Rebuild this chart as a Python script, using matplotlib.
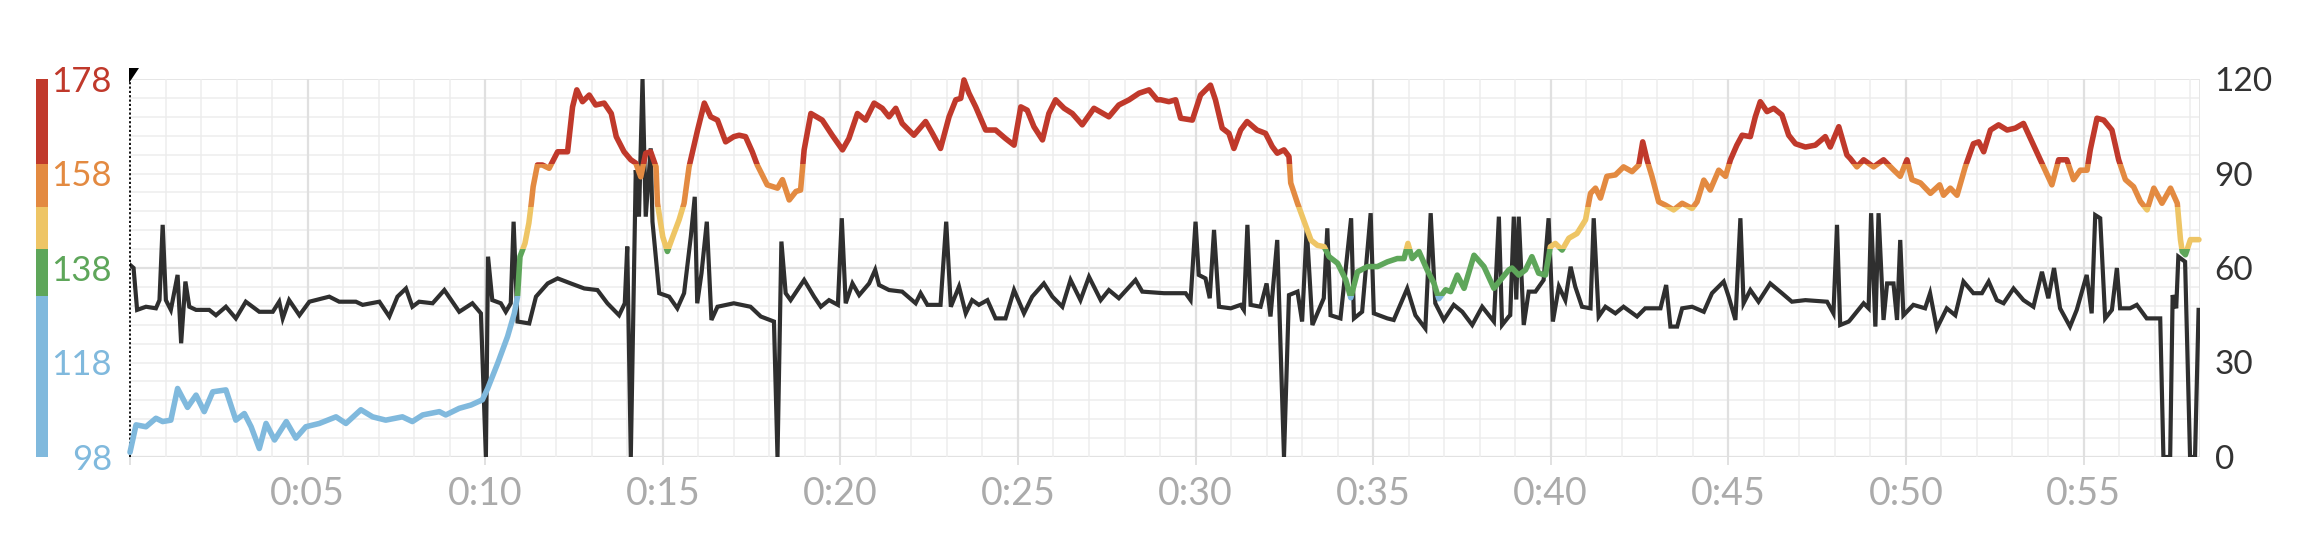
import matplotlib
matplotlib.use("Agg")
import matplotlib.pyplot as plt
import matplotlib.transforms as mtransforms
from matplotlib.patches import Rectangle, Polygon
import numpy as np

plt.rcParams['font.family'] = ['Lato', 'DejaVu Sans']

# ---------------- data ----------------
# heart rate (bpm) vs elapsed time (minutes)
hr_time = [
    0.0, 0.17, 0.45, 0.73, 0.92, 1.15, 1.34, 1.62, 1.86, 2.09,
    2.33, 2.7, 2.98, 3.22, 3.41, 3.64, 3.83, 4.07, 4.4, 4.67,
    4.95, 5.33, 5.8, 6.08, 6.5, 6.83, 7.2, 7.67, 7.95, 8.24,
    8.71, 8.89, 9.27, 9.6, 9.92,
    10.07, 10.35, 10.63, 10.82, 10.91, 10.98, 11.12, 11.23, 11.3, 11.35,
    11.47, 11.61, 11.8, 12.04, 12.32, 12.46, 12.58, 12.74, 12.93, 13.11,
    13.35, 13.55, 13.69, 13.91, 14.1, 14.24, 14.38, 14.52, 14.66, 14.81,
    14.85, 15.0, 15.13, 15.28, 15.46, 15.6, 15.74, 15.98, 16.17, 16.35,
    16.54, 16.77, 17.0, 17.15, 17.33, 17.52, 17.66, 17.94, 18.23, 18.37,
    18.56, 18.75, 18.88, 18.98, 19.17, 19.4,
    19.49, 19.77, 20.06, 20.24, 20.48, 20.71, 20.95, 21.18, 21.37, 21.56,
    21.74, 22.07, 22.4, 22.59, 22.82, 23.06, 23.25, 23.39, 23.48, 23.62,
    23.81, 24.09, 24.37, 24.65, 24.89, 25.08, 25.26, 25.45, 25.69, 25.87,
    26.06, 26.3, 26.53, 26.81, 27.14, 27.56, 27.84, 28.13, 28.41, 28.69,
    28.92,
    29.02, 29.25, 29.44, 29.58, 29.91, 30.14, 30.42, 30.56, 30.75, 30.94,
    31.08, 31.27, 31.45, 31.73, 31.97, 32.16, 32.3, 32.49, 32.63, 32.68,
    32.87, 33.06, 33.25, 33.43, 33.62, 33.76, 34.0, 34.23, 34.37, 34.56,
    34.84, 35.12, 35.4, 35.68, 35.87, 35.98, 36.1, 36.29, 36.52, 36.71,
    36.85, 37.04, 37.18, 37.37, 37.56, 37.84, 38.12, 38.4, 38.59, 38.82,
    38.91, 39.1, 39.29, 39.47, 39.66, 39.85, 39.99, 40.13, 40.32, 40.51,
    40.74, 40.98, 41.12, 41.26, 41.4, 41.58, 41.82, 42.05, 42.29, 42.48,
    42.59, 42.71, 42.85, 43.04, 43.23, 43.46, 43.7, 43.98, 44.12, 44.31,
    44.49, 44.73, 44.92, 45.06, 45.24, 45.39, 45.62, 45.76, 45.9, 46.09,
    46.28, 46.51, 46.7, 46.89, 47.17, 47.45, 47.73, 47.87, 48.11, 48.34,
    48.43, 48.62, 48.81, 49.09, 49.37, 49.66, 49.84, 50.03, 50.17, 50.41,
    50.69, 50.95, 51.06, 51.25, 51.44, 51.67, 51.9, 52.05, 52.19, 52.38,
    52.61, 52.85, 53.08, 53.31, 53.55, 53.74, 53.92, 54.11, 54.3, 54.53,
    54.72, 54.91, 55.1, 55.19, 55.38, 55.57, 55.8, 55.99, 56.18, 56.41,
    56.6, 56.79, 56.98, 57.21, 57.45, 57.64, 57.73, 57.78, 57.87, 58.01,
    58.25,
]
hr_bpm = [
    99, 104.8, 104.4, 106.2, 105.5, 105.8, 112.5, 108.5, 111.1, 107.6,
    111.8, 112.2, 105.8, 107.2, 104.4, 99.8, 105.1, 101.6, 105.5, 102,
    104.4, 105.1, 106.5, 105.1, 108, 106.5, 105.8, 106.5, 105.5, 106.9,
    107.6, 106.9, 108.3, 109, 110.1,
    112.5, 117.8, 123.5, 128.4, 131.9, 140.4, 143.2, 147.5, 151.7, 155.2,
    159.8, 159.8, 159.1, 162.6, 162.6, 172.1, 175.7, 173.2, 174.6, 172.5,
    172.9, 170.7, 165.8, 162.6, 160.9, 160.2, 157.3, 162.3, 162.6, 159.4,
    151.7, 144.6, 141.5, 144.6, 148.2, 151.7, 159.4, 167.2, 172.9, 170,
    169.3, 164.7, 165.8, 166.1, 165.8, 162.6, 159.8, 155.6, 154.9, 156.7,
    152.4, 154.2, 154.5, 163, 170.7, 169.7,
    169.3, 166.1, 163, 165.4, 170.7, 169.3, 172.9, 171.8, 170, 171.8,
    168.6, 166.1, 169, 166.5, 163.3, 170, 173.6, 173.9, 177.8, 175,
    172.1, 167.2, 167.2, 165.4, 164, 172.1, 171.4, 167.9, 165.1, 170.7,
    173.6, 171.8, 170.7, 168.3, 171.8, 170, 172.5, 173.6, 175, 175.7,
    173.6,
    173.6, 173.2, 173.6, 169.7, 169.3, 174.6, 176.7, 173.6, 167.6, 166.5,
    163.3, 167.2, 169, 167.2, 166.5, 163.7, 162.3, 163, 161.6, 156,
    151.7, 147.8, 143.9, 142.8, 142.5, 140.4, 139, 135.5, 131.7, 137.2,
    138.3, 138.3, 139.3, 140, 140, 143.2, 140, 141.5, 137.6, 134.8,
    131.5, 133.4, 133, 136.5, 133.7, 140.7, 138.3, 133.7, 135.5, 137.6,
    138, 136.5, 137.6, 140.4, 136.9, 136.5, 142.5, 143.2, 141.8, 144.3,
    145.3, 148.2, 153.8, 154.9, 152.8, 157.4, 157.7, 159.4, 158.4, 159.8,
    164.7, 160.9, 157.4, 152, 151.3, 150.3, 151.7, 150.6, 152, 156.6,
    154.5, 158.7, 157.4, 160.9, 164, 166.1, 165.8, 170, 173.2, 171.1,
    171.8, 170.4, 166.1, 164.3, 163.6, 164, 165.8, 163.6, 167.9, 161.9,
    161.2, 159.4, 160.9, 159.4, 160.9, 158.7, 157.4, 160.9, 156.7, 156,
    153.8, 155.6, 153.4, 154.9, 153.4, 159.4, 164.3, 164.7, 162.6, 167.2,
    168.3, 167.2, 167.6, 168.6, 164.7, 161.6, 158.7, 155.6, 160.9, 160.9,
    156.7, 158.7, 158.7, 163, 169.7, 169.3, 167.2, 160.9, 156.7, 155.2,
    152.1, 150.3, 154.9, 151.7, 154.9, 151.7, 144, 141.5, 140.8, 144,
    144,
]

# second series (right axis, 0-120) vs elapsed time (minutes)
cad_time = [
    0.0, 0.1, 0.2, 0.45, 0.73, 0.83, 0.92, 1.01, 1.15, 1.34,
    1.44, 1.56, 1.67, 1.86, 2.23, 2.42, 2.7, 2.98, 3.26, 3.64,
    4.02, 4.2, 4.3, 4.48, 4.77, 5.05, 5.61, 5.89, 6.36, 6.55,
    7.02, 7.3, 7.53, 7.77, 7.95, 8.14, 8.52, 8.85, 9.27, 9.64,
    9.88, 10.02, 10.08, 10.2, 10.44, 10.58, 10.72, 10.8, 10.91, 11.24,
    11.43, 11.76, 12.04, 12.41, 12.79, 13.16, 13.44, 13.77, 13.93, 14.0,
    14.1, 14.24, 14.33, 14.43, 14.52, 14.66, 14.71, 14.9, 15.18, 15.41,
    15.6, 15.79, 15.9, 15.97, 16.09, 16.24, 16.37, 16.54, 17.0, 17.47,
    17.76, 18.13, 18.23, 18.34, 18.46, 18.6, 18.98, 19.26,
    19.45, 19.68, 19.93, 20.04, 20.15, 20.34, 20.53, 20.81, 20.98, 21.09,
    21.37, 21.74, 22.12, 22.26, 22.45, 22.82, 22.98, 23.11, 23.34, 23.53,
    23.71, 23.9, 24.14, 24.37, 24.65, 24.89, 25.17, 25.4, 25.73, 25.97,
    26.25, 26.48, 26.76, 27.0, 27.33, 27.56, 27.84, 28.31, 28.5, 29.11,
    29.72, 29.86, 30.0, 30.09, 30.28, 30.4, 30.52, 30.66, 30.99, 31.27,
    31.36, 31.46, 31.55, 31.83, 32.0, 32.11, 32.3, 32.49, 32.63, 32.87,
    33.0, 33.13, 33.29, 33.47, 33.61, 33.71, 33.8, 34.08, 34.38, 34.46,
    34.69, 34.93, 35.02, 35.4, 35.58, 35.96, 36.19, 36.47, 36.62, 36.75,
    36.99, 37.27, 37.51, 37.79, 38.07, 38.4, 38.54, 38.63, 38.82,
    38.86, 38.96, 39.03, 39.1, 39.24, 39.38, 39.57, 39.8, 39.94, 40.06,
    40.23, 40.41, 40.56, 40.69, 40.88, 41.12, 41.21, 41.35, 41.54, 41.82,
    42.05, 42.43, 42.66, 43.09, 43.25, 43.37, 43.56, 43.7, 43.98, 44.31,
    44.54, 44.87, 45.01, 45.2, 45.34, 45.43, 45.62, 45.85, 46.18, 46.51,
    46.79, 47.17, 47.78, 47.96, 48.06, 48.15, 48.39,
    48.43, 48.81, 48.95, 49.02, 49.14, 49.23, 49.37, 49.47, 49.65, 49.75,
    49.84, 49.93, 50.21, 50.54, 50.68, 50.87, 51.15, 51.39, 51.62, 51.9,
    52.14, 52.33, 52.56, 52.75, 53.03, 53.31, 53.59, 53.83, 54.01, 54.17,
    54.34, 54.62, 54.81, 55.09, 55.23, 55.33, 55.47, 55.61, 55.8, 55.94,
    56.03, 56.31, 56.5, 56.78, 57.16, 57.25, 57.44, 57.51, 57.61, 57.67,
    57.86, 58.0, 58.14, 58.24,
]
cad_val = [
    61, 60, 46.7, 47.7, 47.2, 49.8, 73.7, 49.8, 46.7, 57.8,
    36.1, 55.7, 47.7, 46.7, 46.7, 45, 47.7, 44, 49.3, 46.1,
    46.1, 49.3, 44, 49.8, 45, 49.3, 50.9, 49.3, 49.3, 48.3,
    49.3, 44.6, 50.9, 53.5, 47.7, 49.3, 48.8, 53, 46.1, 48.8,
    45.6, 0, 63.6, 49.8, 48.8, 46.1, 48.8, 74.7, 43, 42.4,
    50.9, 55.1, 56.7, 55.1, 53.5, 53, 48.8, 45, 48.8, 66.8,
    0, 91.1, 76.3, 120, 76.3, 98, 74.7, 52, 50.9, 47.2,
    52, 70, 82.6, 48.8, 58.3, 74.7, 43.5, 47.7, 48.8, 47.7,
    44.6, 43, 0, 68.4, 52, 49.8, 56.2, 50.9,
    47.7, 49.8, 48.3, 75.8, 48.8, 55.1, 51.4, 55.1, 59.4, 54.6,
    53, 52.5, 48.8, 52, 48.3, 48.3, 74.7, 47.7, 54.1, 45.6,
    49.8, 48.3, 49.8, 44, 44, 53, 45.6, 50.9, 55.1, 50.9,
    47.7, 56.2, 49.8, 57.2, 49.8, 53, 50.4, 56.2, 52.5, 52,
    52, 49.8, 74.7, 57.8, 56.7, 50.4, 72.1, 47.7, 47.2, 48.3,
    46.7, 73.7, 48.3, 47.7, 55.1, 44.6, 68.9, 0, 51.4, 52.5,
    43, 72.6, 41.9, 46.7, 50.4, 72.6, 45, 44, 75.8, 44,
    46.1, 77.4, 45.6, 44, 43.5, 53.5, 45, 40.8, 77.4, 48.8,
    43.5, 48.3, 46.1, 41.9, 47.7, 43, 76.3, 41.9, 44.6,
    45, 76.3, 50, 76.3, 41.9, 52.5, 52.5, 56.2, 75.8, 43,
    54.1, 49.8, 60.4, 54.1, 47.7, 47.2, 75.8, 44.6, 47.7, 45.6,
    47.7, 44.6, 47.2, 47.2, 54.6, 41.4, 41.4, 47.2, 47.7, 46.1,
    52, 55.7, 50.9, 43.5, 75.8, 48.8, 53, 49.3, 55.1, 52,
    49.3, 49.8, 49.3, 45.6, 73.7, 41.9, 43,
    43.5, 48.8, 47.2, 77.4, 41.4, 77.4, 43.5, 55.1, 55.1, 43.5,
    68.9, 45, 48.3, 47.2, 52, 40.8, 47.2, 45, 55.7, 52,
    52, 55.7, 49.8, 48.8, 53.5, 49.8, 47.7, 58.8, 50.4, 60,
    47.2, 41.4, 46.7, 57.8, 45.6, 76.8, 75.8, 44, 46.7, 60,
    47.2, 47.2, 48.3, 44, 44, 0, 0, 51.4, 47.2, 63.6,
    62, 0, 0, 46.7,
]
assert len(hr_time) == len(hr_bpm)
assert len(cad_time) == len(cad_val)

# heart-rate zone thresholds and colours
zone_edges = [98, 132, 142, 151, 160, 178]
zone_colors = ['#80b9dd', '#5ea65a', '#eec565', '#e38a41', '#c0392b']

hr_ticks = [98, 118, 138, 158, 178]
hr_tick_colors = ['#80b9dd', '#80b9dd', '#5ea65a', '#e38a41', '#c0392b']
right_ticks = [0, 30, 60, 90, 120]
x_ticks = [0, 5, 10, 15, 20, 25, 30, 35, 40, 45, 50, 55]
x_labels = ['', '0:05', '0:10', '0:15', '0:20', '0:25', '0:30',
            '0:35', '0:40', '0:45', '0:50', '0:55']
x_max = 58.28

# ---------------- figure ----------------
W, H = 2316, 547
fig = plt.figure(figsize=(W / 100, H / 100), dpi=100)
L, R, T, B = 130, 2200, 79, 457
ax = fig.add_axes([L / W, 1 - B / H, (R - L) / W, (B - T) / H])
axh = ax.twinx()

ax.set_xlim(0, x_max)
ax.set_ylim(0, 120)
for a in (ax, axh):
    for s in a.spines.values():
        s.set_visible(False)

# grid
minor_c, major_c = '#ededed', '#e0e0e0'
for v in np.arange(0, 121, 6):
    ax.axhline(v, color=major_c if v == 60 else minor_c,
               lw=1.6 if v == 60 else 1.1, zorder=0)
ax.axhline(0, color='#e2e2e2', lw=1.6, zorder=0)
ax.axhline(120, color='#e6e6e6', lw=1.4, zorder=0)
for m in np.arange(1, x_max, 1):
    ax.axvline(m, color=major_c if m % 5 == 0 else minor_c,
               lw=1.6 if m % 5 == 0 else 1.1, zorder=0)
ax.axvline(x_max, color='#e6e6e6', lw=1.4, zorder=0)

# second series (black)
ax.plot(cad_time, cad_val, color='#2f2f2f', lw=3.0, zorder=2,
        solid_joinstyle='miter')

# right axis ticks (series in black)
ax.yaxis.tick_right()
ax.yaxis.set_label_position('right')
ax.set_yticks(right_ticks)
ax.tick_params(axis='y', which='both', left=False, labelleft=False,
               right=False, labelright=True, length=0, pad=10.5,
               labelsize=24, labelcolor='#333333')

# x ticks
ax.set_xticks(x_ticks)
ax.set_xticklabels(x_labels)
ax.tick_params(axis='x', length=6, width=1.2, color='#dcdcdc', pad=8,
               labelsize=27, labelcolor='#ababab')

# heart rate axis (left)
axh.set_ylim(98, 178)
axh.set_xlim(0, x_max)
axh.yaxis.tick_left()
axh.yaxis.set_label_position('left')
axh.set_yticks(hr_ticks)
axh.tick_params(axis='y', which='both', left=False, labelleft=True,
                right=False, labelright=False, length=0, pad=13, labelsize=25)
for lbl, c in zip(axh.get_yticklabels(), hr_tick_colors):
    lbl.set_color(c)

for i, c in enumerate(zone_colors):
    lo = zone_edges[i] if i > 0 else 0
    hi = zone_edges[i + 1] if i < len(zone_colors) - 1 else 300
    line, = axh.plot(hr_time, hr_bpm, color=c, lw=4.0, zorder=3,
                     solid_joinstyle='round', solid_capstyle='round')
    clip = Rectangle((-5, lo), x_max + 10, hi - lo, transform=axh.transData)
    line.set_clip_path(clip)

# zone colour bar at far left
bar_tr = mtransforms.blended_transform_factory(fig.transFigure, axh.transData)
for i, c in enumerate(zone_colors):
    rect = Rectangle((36 / W, zone_edges[i]), 12 / W,
                     zone_edges[i + 1] - zone_edges[i],
                     transform=bar_tr, color=c, lw=0, clip_on=False)
    fig.add_artist(rect)

# dotted start marker with flag
ax.axvline(0, color='black', lw=1.3, ls=(0, (1.2, 1.2)), zorder=5, clip_on=False)
flag = Polygon([[129 / W, 1 - 68 / H], [139 / W, 1 - 68 / H], [129 / W, 1 - 83 / H]],
               closed=True, transform=fig.transFigure, color='black', lw=0)
fig.add_artist(flag)

fig.savefig('out.png', dpi=100)
